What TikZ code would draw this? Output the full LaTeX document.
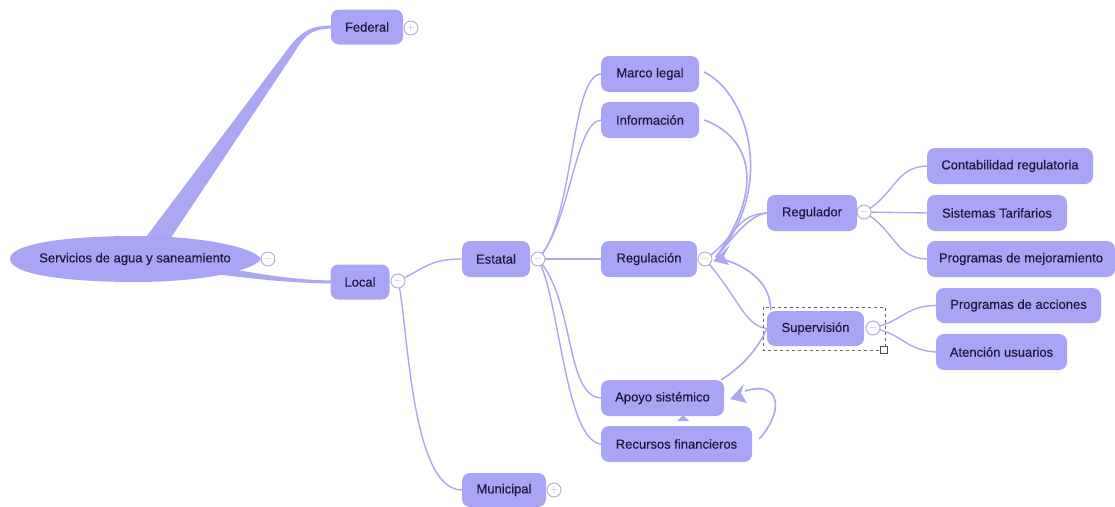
\documentclass[tikz,border=0pt]{standalone}
\usepackage{fontspec}
\setmainfont{Liberation Sans}
\newfontfamily\nodefont[FakeBold=0.35]{Liberation Sans}
\usetikzlibrary{shapes.geometric,arrows.meta}
\definecolor{lav}{HTML}{A9A4F3}
\definecolor{lavline}{HTML}{ABA7F2}
\definecolor{ink}{HTML}{1C1A3C}
\definecolor{knob}{HTML}{ADAAD9}
\pgfdeclarelayer{under}
\pgfsetlayers{under,main}
\tikzset{
  box/.style={fill=lav, rounded corners=8pt, minimum height=36pt, inner sep=0pt,
    text=ink, font=\nodefont\fontsize{13}{15}\selectfont},
  link/.style={draw=lavline, line width=1.4pt},
  rel/.style={draw=lavline, line width=1.6pt},
  knobc/.style={circle, draw=knob, fill=white, line width=0.9pt, minimum size=14pt, inner sep=0pt,
    text=knob, font=\fontsize{11}{11}\selectfont},
}
\begin{document}
\begin{tikzpicture}[x=1pt,y=-1pt]
\useasboundingbox (0,0) rectangle (1115,506);

% tapered trunks from the root
\fill[lavline] (140,245) -- (290,46) .. controls (303,30) and (312,26) .. (331,25.5)
  -- (331,28.5) .. controls (314,29) and (306,33) .. (296,50) -- (166,245) -- cycle;
\fill[lavline] (215,266) .. controls (268,276) and (300,280) .. (331,280.5)
  -- (331,283.5) .. controls (295,283) and (262,280) .. (215,274) -- cycle;

% root: a leaf-like ellipse, slightly pointed towards the right
\fill[lav] (10,259) .. controls (10,243) and (70,236) .. (135,236)
  .. controls (205,236) and (255,248) .. (261,259)
  .. controls (255,270) and (205,282) .. (135,282)
  .. controls (70,282) and (10,275) .. (10,259) -- cycle;
\node[text=ink, font=\nodefont\fontsize{13}{15}\selectfont] (root) at (135,259) {Servicios de agua y saneamiento};

% first level
\node[box, minimum width=72pt, minimum height=35pt] (fed) at (367,27) {Federal};
\node[box, minimum width=59pt, minimum height=35pt] (loc) at (360,282) {Local};

% second level
\node[box, minimum width=68pt] (est) at (496,259) {Estatal};
\node[box, minimum width=84pt, minimum height=34pt] (mun) at (504,490) {Municipal};

% third level
\node[box, minimum width=98pt] (marco) at (650,74) {Marco legal};
\node[box, minimum width=98pt] (info) at (650,120) {Información};
\node[box, minimum width=96pt] (regn) at (649,259) {Regulación};
\node[box, minimum width=123pt] (apoyo) at (662.5,398) {Apoyo sistémico};
\node[box, minimum width=151pt] (recur) at (676.5,444) {Recursos financieros};

% fourth level
\node[box, minimum width=90pt] (regd) at (812,213) {Regulador};
\node[box, minimum width=97pt, minimum height=35pt] (sup) at (815.5,328.5) {Supervisión};

% fifth level
\node[box, minimum width=166pt] (cont) at (1010,166) {Contabilidad regulatoria};
\node[box, minimum width=140pt] (sist) at (997,213) {Sistemas Tarifarios};
\node[box, minimum width=188pt] (prog) at (1021,259) {Programas de mejoramiento};
\node[box, minimum width=165pt, minimum height=35pt] (acc) at (1018.5,305.5) {Programas de acciones};
\node[box, minimum width=131pt] (aten) at (1001.5,352) {Atención usuarios};

% selection frame around Supervisión
\draw[gray!80!black, dashed, line width=0.6pt] (763,307) rectangle (885,350);
\node[draw=gray!60!black, fill=white, line width=0.6pt, minimum size=7pt, inner sep=0pt] (handle) at (884,350) {};

% collapse / expand knobs
\node[knobc] (kroot) at (268,259) {$-$};
\node[knobc] (kfed) at (411,28) {$+$};
\node[knobc] (kloc) at (398,281) {$-$};
\node[knobc] (kest) at (538,259) {$-$};
\node[knobc] (kmun) at (554,490) {$+$};
\node[knobc] (kregn) at (705,259) {$-$};
\node[knobc] (kregd) at (864,212) {$-$};
\node[knobc] (ksup) at (873,328) {$-$};

% tree branches, kept under the boxes and knobs
\begin{pgfonlayer}{under}
\draw[link] (kloc.center) .. controls (425,268) and (430,259) .. (est.west);
\draw[link] (kloc.center) .. controls (408,320) and (410,490) .. (mun.west);

\draw[link] (kest.center) .. controls (575,220) and (570,76) .. (marco.west);
\draw[link] (kest.center) .. controls (570,225) and (575,122) .. (info.west);
\draw[link] (kest.center) -- (regn.west);
\draw[link] (kest.center) .. controls (575,300) and (565,396) .. (apoyo.west);
\draw[link] (kest.center) .. controls (560,300) and (565,440) .. (recur.west);

\draw[link] (kregn.center) .. controls (735,240) and (735,214) .. (regd.west);
\draw[link] (kregn.center) .. controls (740,300) and (745,326) .. (sup.west);

\draw[link] (kregd.center) .. controls (895,195) and (895,167) .. (cont.west);
\draw[link] (kregd.center) -- (sist.west);
\draw[link] (kregd.center) .. controls (895,230) and (895,258) .. (prog.west);

\draw[link] (ksup.center) .. controls (905,320) and (905,306) .. (acc.west);
\draw[link] (ksup.center) .. controls (905,335) and (905,350) .. (aten.west);
\end{pgfonlayer}

% relationship links
\coordinate (tipA) at (716,257);
\draw[rel] (marco.east) ++(5,-2) coordinate (m0) .. controls (750,95) and (775,190) .. (tipA);
\draw[rel] (info.east) ++(5,0) coordinate (i0) .. controls (745,135) and (770,180) .. (tipA);
\draw[rel] (regd.west) .. controls (750,215) and (735,235) .. (tipA);
\draw[rel] (sup.north west) ++(4,-1) coordinate (s0) .. controls (770,280) and (745,265) .. (tipA);
\fill[lavline] (713,261) -- (730,245) -- (724,256) -- (729,265) -- cycle;

\draw[rel] (apoyo.north east) ++(-3,0) coordinate (a0) .. controls (745,365) and (760,345) .. (sup.west);

\coordinate (tipB) at (730,399);
\draw[rel] (recur.east) ++(7,-5) coordinate (r0) .. controls (785,410) and (780,380) .. (745,391);
\fill[lavline] (tipB) -- (744,384) -- (741,393) -- (747,403) -- cycle;

% small marker between the two lower boxes
\fill[lavline] (677,421) -- (683,415) -- (689,421) -- cycle;
\end{tikzpicture}
\end{document}
